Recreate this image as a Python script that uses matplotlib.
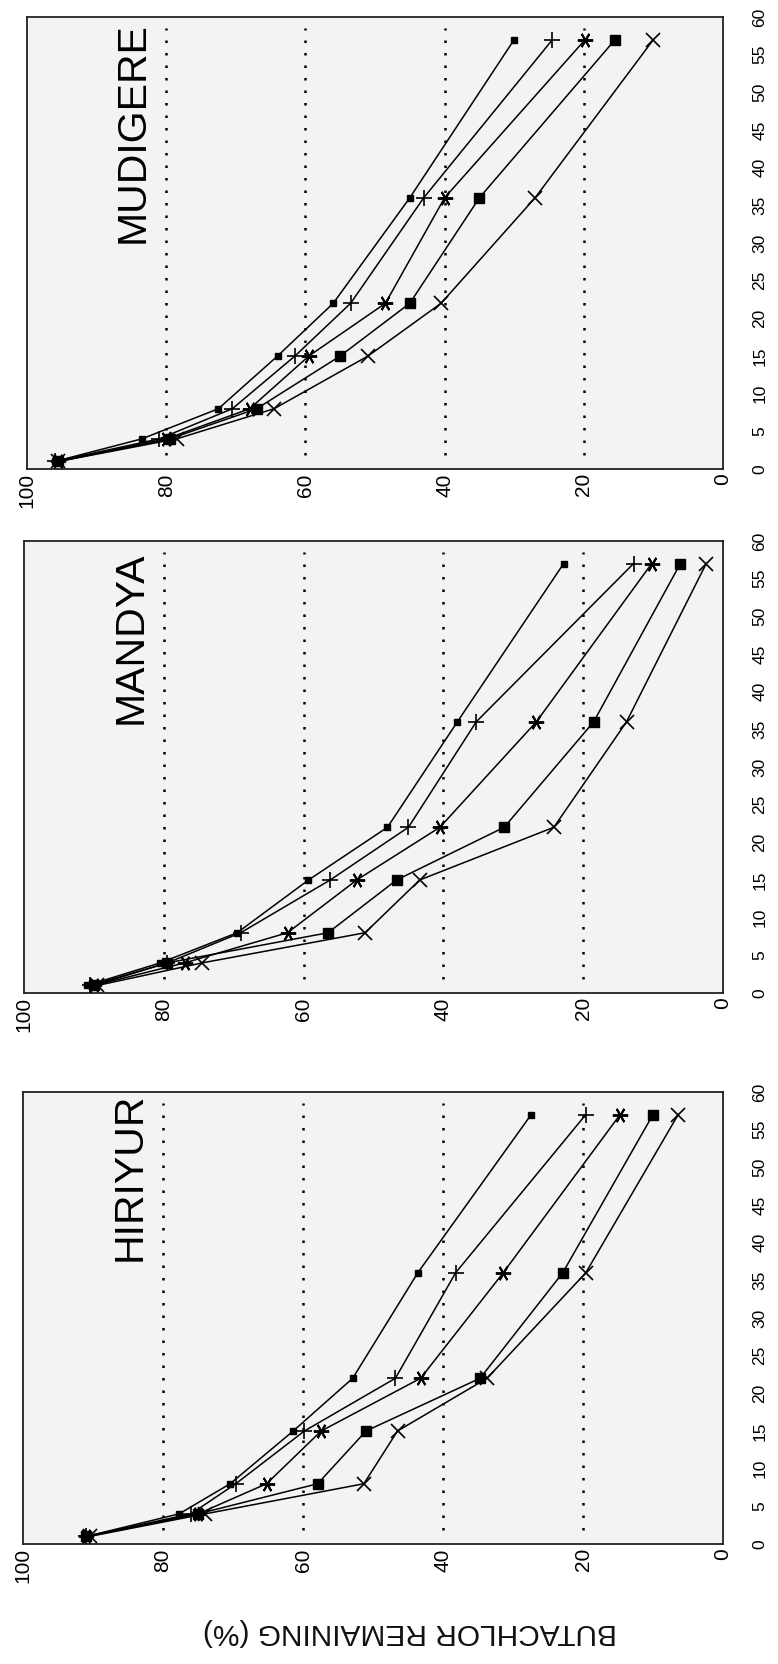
import matplotlib
matplotlib.use("Agg")
import matplotlib.pyplot as plt
from matplotlib import font_manager

# ---------------- data ----------------
days = [1, 4, 8, 15, 22, 36, 57]
value_ticks = [0, 20, 40, 60, 80, 100]
day_ticks = [0, 5, 10, 15, 20, 25, 30, 35, 40, 45, 50, 55, 60]
sites = ["MUDIGERE", "MANDYA", "HIRIYUR"]

mudigere_a = [96.0, 83.5, 72.5, 64.0, 56.0, 45.0, 30.0]
mudigere_b = [96.0, 81.0, 70.5, 61.5, 53.5, 43.0, 24.5]
mudigere_c = [95.5, 80.0, 68.0, 59.5, 48.5, 40.0, 19.8]
mudigere_d = [95.5, 79.5, 67.0, 55.0, 45.0, 35.0, 15.5]
mudigere_e = [95.5, 78.5, 64.5, 51.0, 40.5, 27.0, 10.0]

mandya_a = [91.0, 80.5, 69.5, 59.3, 48.0, 38.0, 22.8]
mandya_b = [90.5, 79.5, 69.0, 56.2, 45.0, 35.3, 12.8]
mandya_c = [90.0, 77.0, 62.3, 52.4, 40.5, 26.7, 10.2]
mandya_d = [90.0, 79.5, 56.5, 46.7, 31.3, 18.5, 6.1]
mandya_e = [89.5, 74.5, 51.2, 43.4, 24.2, 13.8, 2.4]

hiriyur_a = [91.0, 77.7, 70.4, 61.4, 52.9, 43.6, 27.4]
hiriyur_b = [91.0, 76.0, 69.6, 59.8, 46.8, 38.2, 19.6]
hiriyur_c = [91.0, 75.0, 65.2, 57.4, 43.2, 31.4, 14.7]
hiriyur_d = [91.0, 75.0, 57.9, 51.0, 34.7, 22.9, 10.0]
hiriyur_e = [90.5, 74.0, 51.3, 46.5, 33.7, 19.6, 6.4]

site_series = [
    [mudigere_a, mudigere_b, mudigere_c, mudigere_d, mudigere_e],
    [mandya_a, mandya_b, mandya_c, mandya_d, mandya_e],
    [hiriyur_a, hiriyur_b, hiriyur_c, hiriyur_d, hiriyur_e],
]

# ---------------- style ----------------
avail = {f.name for f in font_manager.fontManager.ttflist}
base_font = "Liberation Sans" if "Liberation Sans" in avail else "DejaVu Sans"
narrow = "Liberation Sans Narrow" if "Liberation Sans Narrow" in avail else base_font
plt.rcParams["font.family"] = [base_font, "DejaVu Sans"]

marker_styles = [
    dict(marker="s", ms=4.0),
    dict(marker="+", ms=12, mew=1.2),
    dict(marker=(6, 2, 90), ms=11, mew=1.4),
    dict(marker="s", ms=7.0),
    dict(marker="x", ms=10, mew=1.2),
]

W, H = 778, 1664
boxes = [(27, 17, 723, 469), (24, 541, 723, 993), (23, 1092, 723, 1544)]
title_top = [59.3, 58.6, 59.9]

fig = plt.figure(figsize=(W / 100, H / 100), dpi=100)
fig.patch.set_facecolor("white")

for box, site, series, ttop in zip(boxes, sites, site_series, title_top):
    l, t, r, b = box
    ax = fig.add_axes([l / W, 1 - b / H, (r - l) / W, (b - t) / H])
    ax.set_facecolor("#f3f3f3")
    ax.set_xlim(100, 0)
    ax.set_ylim(0, 60)
    for v in [20, 40, 60, 80]:
        ax.axvline(v, ymin=0.03, ymax=0.975, color="black", ls=(0, (1, 4)), lw=1.8, zorder=1)
    for vals, st in zip(series, marker_styles):
        ax.plot(vals, days, color="black", lw=1.1, mfc="black", mec="black", zorder=3, **st)
    ax.set_xticks(value_ticks)
    ax.set_xticklabels([str(v) for v in value_ticks], rotation=90, fontsize=15,
                       fontfamily=narrow)
    ax.yaxis.tick_right()
    ax.set_yticks(day_ticks)
    ax.set_yticklabels([str(d) for d in day_ticks], rotation=90, va="center",
                       fontsize=12.5, fontfamily=narrow)
    ax.tick_params(axis="x", length=0, pad=3)
    ax.tick_params(axis="y", length=0, pad=21)
    for sp in ax.spines.values():
        sp.set_linewidth(1.3)
        sp.set_color("#222222")
    ax.text(84.8, ttop, site, rotation=90, ha="center", va="top", fontsize=29.5,
            color="black", zorder=4)

fig.text(410 / W, 1 - 1632 / H, "BUTACHLOR REMAINING (%)", rotation=180,
         ha="center", va="center", fontsize=21.5, color="#111111")

fig.savefig("out.png", dpi=100)
